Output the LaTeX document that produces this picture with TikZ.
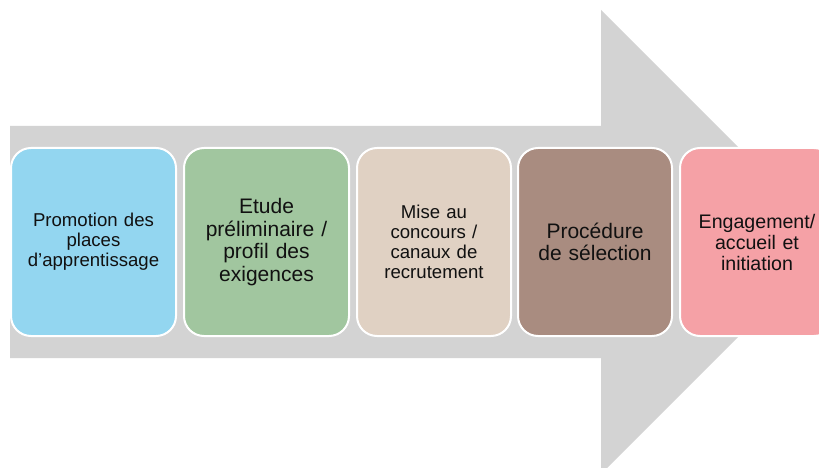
\documentclass[tikz,border=0pt]{standalone}
\usepackage{fontspec}
\setmainfont{Liberation Sans}
\definecolor{arrowgray}{HTML}{D3D3D3}
\definecolor{cblue}{HTML}{93D6F0}
\definecolor{cgreen}{HTML}{A1C69F}
\definecolor{cbeige}{HTML}{E0D1C3}
\definecolor{cbrown}{HTML}{A98C80}
\definecolor{cpink}{HTML}{F5A1A6}
\definecolor{ctext}{HTML}{111111}
\begin{document}
\begin{tikzpicture}[x=1pt,y=-1pt,
  stepbox/.style={draw=white, line width=2pt, rounded corners=20pt,
    minimum height=188pt, align=center, text=ctext, inner sep=3pt},
  wide/.style={minimum width=165pt, text width=158pt},
  narrow/.style={minimum width=154pt, text width=147pt},
  smalltext/.style={font=\fontsize{18.6}{20}\selectfont},
  bigtext/.style={font=\fontsize{21}{22.5}\selectfont},
  midtext/.style={font=\fontsize{19.6}{21}\selectfont}]
\useasboundingbox (0,0) rectangle (819,468);
\clip (0,0) rectangle (819,468);
\fill[white] (0,0) rectangle (819,468);
\fill[arrowgray] (10,126) -- (601,126) -- (601,10) -- (833,242) -- (601,474)
  -- (601,358) -- (10,358) -- cycle;
\node[stepbox, wide, smalltext, fill=cblue] (b1) at (93.5,242)
  {Promotion des\\places\\d’apprentissage};
\node[stepbox, wide, bigtext, fill=cgreen] (b2) at (266.5,242)
  {Etude\\préliminaire /\\profil des\\exigences};
\node[stepbox, narrow, smalltext, fill=cbeige] (b3) at (434,242)
  {Mise au\\concours /\\canaux de\\recrutement};
\node[stepbox, narrow, bigtext, fill=cbrown] (b4) at (595,242)
  {Procédure\\de sélection};
\node[stepbox, narrow, midtext, fill=cpink] (b5) at (757,242)
  {Engagement/\\accueil et\\initiation};
\end{tikzpicture}
\end{document}
